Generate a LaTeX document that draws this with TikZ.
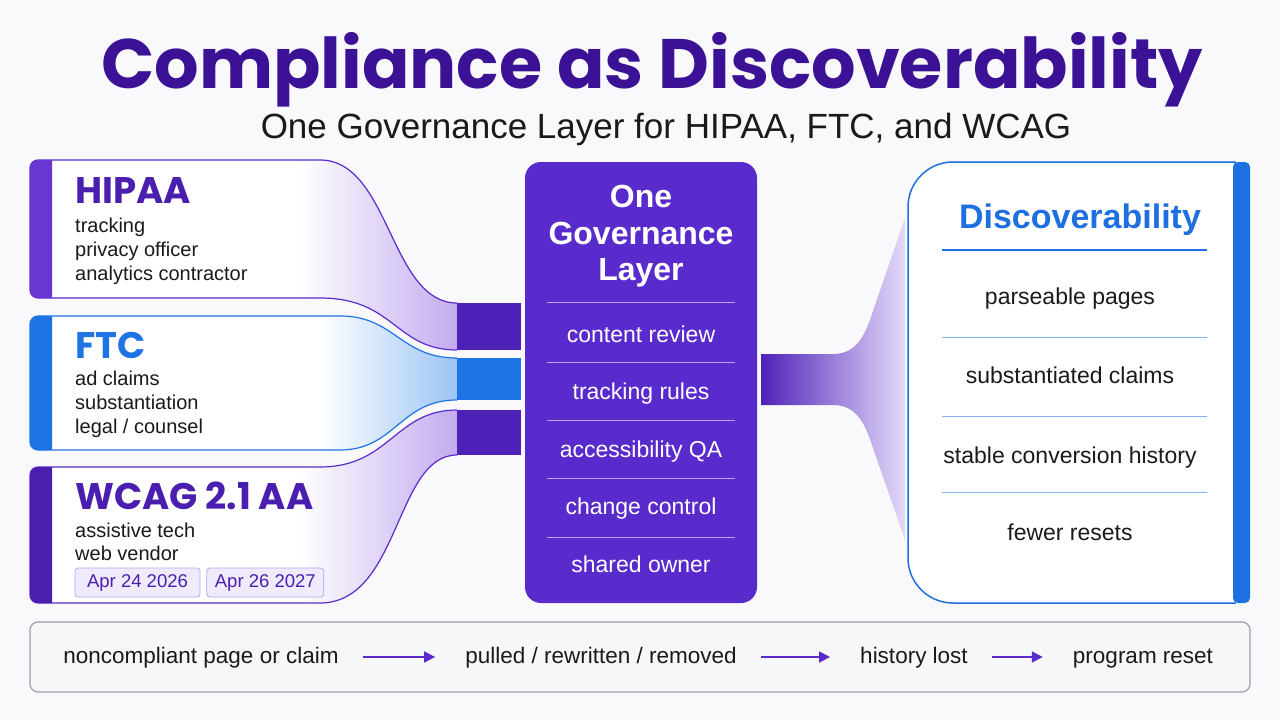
\documentclass[tikz,border=0pt]{standalone}
\usepackage{fontspec}
\setmainfont{Liberation Sans}
\newfontfamily\headfont{Poppins}
\usepackage{tikz}
\usetikzlibrary{positioning,arrows.meta}

\definecolor{bgcol}{HTML}{F9F9FB}
\definecolor{titlepurple}{HTML}{3B1296}
\definecolor{headpurple}{HTML}{4A1FB0}
\definecolor{hipaabar}{HTML}{6A36D2}
\definecolor{wcagbar}{HTML}{4A1FB0}
\definecolor{ftcblue}{HTML}{1F74E3}
\definecolor{govpurple}{HTML}{5A2BCC}
\definecolor{stubpurple}{HTML}{4E22B8}
\definecolor{ribbonpurple}{HTML}{C2ABF0}
\definecolor{ribbonblue}{HTML}{9CC4F5}
\definecolor{fanlight}{HTML}{E4DAF9}
\definecolor{chipfill}{HTML}{EFEAFC}
\definecolor{chipline}{HTML}{B7A6EE}
\definecolor{discblue}{HTML}{1E6FE0}
\definecolor{sepblue}{HTML}{8AB0F0}
\definecolor{govline}{HTML}{B9A6F0}
\definecolor{barfill}{HTML}{F6F7F9}
\definecolor{barline}{HTML}{9AA1AD}
\definecolor{inkcol}{HTML}{1A1A1A}

\tikzset{
  cardhead/.style={anchor=base west, inner sep=0, font=\headfont\bfseries\fontsize{37}{38}\selectfont},
  cardline/.style={anchor=base west, inner sep=0, text=inkcol, font=\fontsize{20}{24}\selectfont},
  datechip/.style={draw=chipline, fill=chipfill, rounded corners=3, line width=0.8pt, text=headpurple,
    minimum height=29pt, inner xsep=0, font=\fontsize{18.5}{20}\selectfont},
  govhead/.style={anchor=base, inner sep=0, text=white, font=\bfseries\fontsize{32}{36}\selectfont},
  govitem/.style={anchor=base, inner sep=0, text=white, font=\fontsize{23}{26}\selectfont},
  outitem/.style={anchor=base, inner sep=0, text=inkcol, font=\fontsize{23}{26}\selectfont},
  flowstep/.style={inner sep=0, text=inkcol, text height=17pt, text depth=5pt, font=\fontsize{22.5}{26}\selectfont},
  flowarrow/.style={-{Triangle[length=11pt,width=11pt]}, line width=1.8pt, govpurple, shorten <=24pt, shorten >=30pt}
}

\begin{document}
\begin{tikzpicture}[x=1pt,y=-1pt]

\useasboundingbox (0,0) rectangle (1280,720);
\fill[bgcol] (0,0) rectangle (1280,720);

\node[anchor=base, inner sep=0, text=titlepurple, font=\headfont\bfseries\fontsize{70}{72}\selectfont] (title) at (652,88) {Compliance as Discoverability};
\node[anchor=base, inner sep=0, text=inkcol, font=\fontsize{35}{37}\selectfont] (subtitle) at (666,138) {One Governance Layer for HIPAA, FTC, and WCAG};

% left cards with their ribbons
\def\hipaashape{(457,303) .. controls (390,303) and (390,160) .. (320,160) [rounded corners=8] -- (30,160) -- (30,298) [sharp corners] -- (320,298) .. controls (395,298) and (395,350) .. (457,350)}
\def\ftcshape{(457,358) .. controls (400,358) and (395,316) .. (340,316) [rounded corners=8] -- (30,316) -- (30,450) [sharp corners] -- (340,450) .. controls (395,450) and (400,400) .. (457,400)}
\def\wcagshape{(457,410) .. controls (395,410) and (390,467) .. (320,467) [rounded corners=8] -- (30,467) -- (30,603) [sharp corners] -- (320,603) .. controls (400,603) and (395,455) .. (457,455)}

\begin{scope}
  \clip \hipaashape -- cycle;
  \fill[white] (0,150) rectangle (460,360);
  \shade[left color=white, right color=ribbonpurple] (300,150) rectangle (458,360);
\end{scope}
\begin{scope}
  \clip \ftcshape -- cycle;
  \fill[white] (0,310) rectangle (460,455);
  \shade[left color=white, right color=ribbonblue] (320,310) rectangle (458,455);
\end{scope}
\begin{scope}
  \clip \wcagshape -- cycle;
  \fill[white] (0,400) rectangle (460,610);
  \shade[left color=white, right color=ribbonpurple] (300,400) rectangle (458,610);
\end{scope}

\draw[govpurple, line width=1.2pt] \hipaashape;
\draw[ftcblue, line width=1.2pt] \ftcshape;
\draw[govpurple, line width=1.2pt] \wcagshape;

\fill[hipaabar] (52,160) [rounded corners=8] -- (30,160) -- (30,298) [sharp corners] -- (52,298) -- cycle;
\fill[ftcblue] (52,316) [rounded corners=8] -- (30,316) -- (30,450) [sharp corners] -- (52,450) -- cycle;
\fill[wcagbar] (52,467) [rounded corners=8] -- (30,467) -- (30,603) [sharp corners] -- (52,603) -- cycle;

\fill[stubpurple] (457,303) rectangle (521,350);
\fill[ftcblue] (457,358) rectangle (521,400);
\fill[stubpurple] (457,410) rectangle (521,455);

\node[cardhead, text=headpurple] (hipaa) at (75,203) {HIPAA};
\node[cardline] (hipaa1) at (75,232) {tracking};
\node[cardline] (hipaa2) at (75,256) {privacy officer};
\node[cardline] (hipaa3) at (75,280) {analytics contractor};

\node[cardhead, text=ftcblue] (ftc) at (75,358) {FTC};
\node[cardline] (ftc1) at (75,385) {ad claims};
\node[cardline] (ftc2) at (75,409) {substantiation};
\node[cardline] (ftc3) at (75,433) {legal / counsel};

\node[cardhead, text=headpurple] (wcag) at (75,509) {WCAG 2.1 AA};
\node[cardline] (wcag1) at (75,537) {assistive tech};
\node[cardline] (wcag2) at (75,560) {web vendor};
\node[datechip, minimum width=125pt] (chip1) at (137.5,582.5) {Apr 24 2026};
\node[datechip, minimum width=117pt, right=6pt of chip1] (chip2) {Apr 26 2027};

% governance layer
\node[fill=govpurple, rounded corners=16pt, minimum width=232pt, minimum height=441pt] (gov) at (641,382.5) {};
\foreach \w/\y [count=\i] in {One/207, Governance/244, Layer/280}
  \node[govhead] (govhead\i) at (641,\y) {\w};
\foreach \y in {302,362,420,478,537}
  \draw[govline, line width=1pt] (547,\y) -- (735,\y);
\foreach \t/\y [count=\i] in {content review/342, tracking rules/399.5, accessibility QA/457, change control/514.5, shared owner/572}
  \node[govitem] (govitem\i) at (641,\y) {\t};

% fan out to discoverability
\shade[left color=stubpurple, right color=fanlight] (761,354) -- (833,354) .. controls (858,354) and (866,333) .. (874,308) -- (905,218) -- (905,540) -- (874,451) .. controls (866,426) and (858,405) .. (833,405) -- (761,405) -- cycle;

\fill[white] (1236,162) [rounded corners=45] -- (908,162) -- (908,603) [sharp corners] -- (1236,603) -- cycle;
\draw[discblue, line width=1.5pt] (1236,162) [rounded corners=45] -- (908,162) -- (908,603) [sharp corners] -- (1236,603);
\fill[discblue, rounded corners=5] (1233,162) rectangle (1250,603);

\node[anchor=base, inner sep=0, text=discblue, font=\bfseries\fontsize{34}{36}\selectfont] (disc) at (1080,228) {Discoverability};
\draw[discblue, line width=1.6pt] (942,250) -- (1207,250);
\foreach \y in {337,416,492}
  \draw[sepblue, line width=1pt] (942,\y) -- (1207,\y);
\foreach \t/\y [count=\i] in {parseable pages/304, substantiated claims/383, stable conversion history/463, fewer resets/540}
  \node[outitem] (out\i) at (1070,\y) {\t};

% failure chain
\draw[barline, fill=barfill, line width=1.2pt, rounded corners=8] (30,622) rectangle (1250,692);
\node[flowstep] (step1) at (201,657) {noncompliant page or claim};
\node[flowstep] (step2) at (601,657) {pulled / rewritten / removed};
\node[flowstep] (step3) at (914,657) {history lost};
\node[flowstep] (step4) at (1143,657) {program reset};
\draw[flowarrow] (step1) -- (step2);
\draw[flowarrow] (step2) -- (step3);
\draw[flowarrow] (step3) -- (step4);

\end{tikzpicture}
\end{document}
